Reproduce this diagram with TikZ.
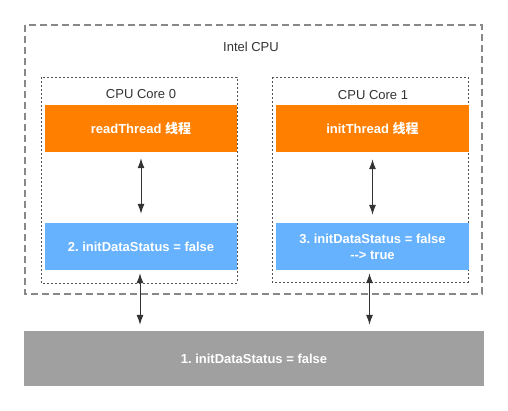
\documentclass[tikz,border=0pt]{standalone}
\usepackage{fontspec}
\setmainfont{Liberation Sans}
\newfontfamily\cjk{Noto Sans CJK SC}
\usetikzlibrary{arrows.meta}
\frenchspacing
\definecolor{orangeC}{HTML}{FF8000}
\definecolor{blueC}{HTML}{66B2FF}
\definecolor{grayC}{HTML}{A0A0A0}
\definecolor{lineC}{HTML}{333333}
\tikzset{
  title/.style={font=\fontsize{13}{16}\selectfont, text=lineC},
  fillbox/.style={font=\fontsize{13}{16}\selectfont\bfseries, text=white, draw=none, minimum height=47pt, inner sep=0pt, align=center},
  orangebox/.style={fillbox, fill=orangeC},
  bluebox/.style={fillbox, fill=blueC},
  graybox/.style={fillbox, fill=grayC, minimum height=55pt, minimum width=460pt},
  outerbox/.style={draw=grayC!85!black, line width=1.2pt, dash pattern=on 7pt off 4pt},
  corebox/.style={draw=lineC!85, line width=1pt, dash pattern=on 2pt off 2pt},
  conn/.style={draw=lineC, line width=1pt, {Latex[length=10pt,width=7pt]}-{Latex[length=10pt,width=7pt]}}
}
\begin{document}
\begin{tikzpicture}[x=1pt,y=-1pt]
\useasboundingbox (0,0) rectangle (508,410);
% outer CPU box
\draw[outerbox] (25,25) rectangle (482,294);
\node[title] (intel) at (251,47) {Intel CPU};
% core boxes
\draw[corebox] (41,77) rectangle (237,283);
\draw[corebox] (272,77) rectangle (468,282);
\node[title] (c0) at (141,94) {CPU Core 0};
\node[title] (c1) at (373,95) {CPU Core 1};
% thread boxes
\node[orangebox, minimum width=192pt] (o0) at (141,128.5) {readThread {\cjk\bfseries 线程}};
\node[orangebox, minimum width=193pt] (o1) at (372.5,128.5) {initThread {\cjk\bfseries 线程}};
% cache boxes
\node[bluebox, minimum width=192pt] (b0) at (141,246.5) {2. initDataStatus = false};
\node[bluebox, minimum width=193pt] (b1) at (372.5,246.5) {3. initDataStatus = false\\{-}{-}> true};
% memory
\node[graybox] (mem) at (254,358.5) {1. initDataStatus = false};
% connectors
\draw[conn, shorten <=6pt, shorten >=9pt] (o0.south) -- (b0.north);
\draw[conn, shorten <=7pt, shorten >=8pt] (o1.south) -- (b1.north);
\draw[conn, shorten <=3pt, shorten >=6pt] ([xshift=-1pt]b0.south) -- ([xshift=-1pt]b0.south |- mem.north);
\draw[conn, shorten <=3pt, shorten >=6pt] ([xshift=-3pt]b1.south) -- ([xshift=-3pt]b1.south |- mem.north);
\end{tikzpicture}
\end{document}
